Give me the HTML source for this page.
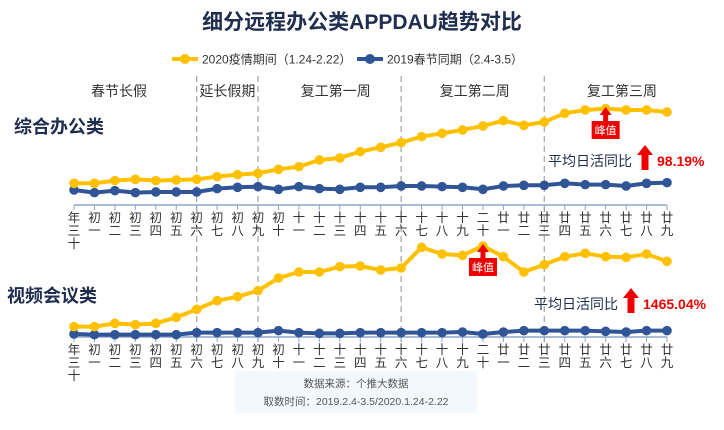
<!DOCTYPE html>
<html><head><meta charset="utf-8"><style>
body{margin:0;background:#fff;}
svg{display:block;font-family:"Liberation Sans","Noto Sans CJK SC",sans-serif;}
</style></head><body>
<svg width="724" height="430" viewBox="0 0 724 430" id="c">
<text x="362" y="29" text-anchor="middle" font-size="21" font-weight="bold" fill="#1f2d4f">细分远程办公类APPDAU趋势对比</text>
<g>
<g><line x1="172" y1="59" x2="198" y2="59" stroke="#FFC000" stroke-width="4"/><circle cx="185" cy="59" r="5" fill="#FFC000"/><text x="202" y="63.5" font-size="12" fill="#333">2020疫情期间（1.24-2.22）</text></g>
<g><line x1="357" y1="59" x2="383" y2="59" stroke="#2F5597" stroke-width="4"/><circle cx="370" cy="59" r="5" fill="#2F5597"/><text x="387" y="63.5" font-size="12" fill="#333">2019春节同期（2.4-3.5）</text></g>
</g>
<rect x="235" y="371" width="242" height="42" fill="#f3f8fd"/>
<text x="356" y="387" text-anchor="middle" font-size="10.5" fill="#555">数据来源：个推大数据</text>
<text x="356" y="405" text-anchor="middle" font-size="10.5" fill="#555">取数时间：2019.2.4-3.5/2020.1.24-2.22</text>
<g id="g"></g>
</svg>
<script>
const labels=["年三十","初一","初二","初三","初四","初五","初六","初七","初八","初九","初十","十一","十二","十三","十四","十五","十六","十七","十八","十九","二十","廿一","廿二","廿三","廿四","廿五","廿六","廿七","廿八","廿九"];
const officeY2020=[60,60,68,72,68,70,72,80,86,90,102,110,130,136,155,168,182,200,210,220,232,248,234,244,270,280,284,280,280,274];
const officeY2019=[40,32,38,32,34,34,34,44,48,50,42,50,44,42,48,48,52,52,50,48,42,52,54,54,60,56,56,52,60,62];
const videoY2020=[10,10,20,16,20,38,62,88,100,118,156,174,174,190,192,180,186,248,228,224,252,220,174,196,220,230,220,218,228,206];
const videoY2019=[-12,-14,-14,-14,-14,-14,-8,-8,-8,-8,-2,-8,-10,-10,-8,-8,-8,-8,-8,-6,-12,-6,-2,-2,-2,-2,-4,-6,-2,-2];
const periods=["春节长假","延长假期","复工第一周","复工第二周","复工第三周"];
const periodCenters=[2.2,7.5,12.8,19.6,26.8];
const dividers=[6,9,16,23];
const NS="http://www.w3.org/2000/svg",g=document.getElementById('g');
const X=i=>74+i*(667-74)/29;
const topY=v=>203.3-v/3, botY=v=>330-v/3;
function el(t,a,p){const e=document.createElementNS(NS,t);for(const k in a)e.setAttribute(k,a[k]);(p||g).appendChild(e);return e;}
dividers.forEach(i=>{const l=el('line',{x1:X(i),x2:X(i),y1:76,y2:345,stroke:'#aaa','stroke-width':1.3,'stroke-dasharray':'6,4'});

});
periods.forEach((p,k)=>{const t=el('text',{x:X(periodCenters[k]),y:96,'text-anchor':'middle','font-size':14,fill:'#333'});t.textContent=p;

});
function axis(y0,name){const a=el('g',{});


el('line',{x1:X(0),x2:X(29),y1:y0,y2:y0,stroke:'#8fa3c8','stroke-width':1.5},a);
labels.forEach((s,i)=>{el('line',{x1:X(i),x2:X(i),y1:y0,y2:y0+5,stroke:'#8fa3c8'},a);
[...s].forEach((ch,j)=>{const t=el('text',{x:X(i),y:y0+17+j*13,'text-anchor':'middle','font-size':12.5,fill:'#333'},a);t.textContent=ch;});});}
axis(205,'x-axis-office');axis(337,'x-axis-video');
function series(data,f,color,name){const s=el('g',{});


el('polyline',{points:data.map((v,i)=>X(i)+','+f(v)).join(' '),fill:'none',stroke:color,'stroke-width':4,'stroke-linejoin':'round'},s);
data.forEach((v,i)=>{const c=el('circle',{cx:X(i),cy:f(v),r:4.8,fill:color},s);

});}
series(officeY2019,topY,'#2F5597','office-2019-line');
series(officeY2020,topY,'#FFC000','office-2020-line');
series(videoY2019,botY,'#2F5597','video-2019-line');
series(videoY2020,botY,'#FFC000','video-2020-line');
function label(x,y,t,name){const e=el('text',{x:x,y:y,'font-size':18,'font-weight':'bold',fill:'#1f2d4f'});e.textContent=t;

}
label(14,133,'综合办公类','office-category-label');label(7,302,'视频会议类','video-category-label');
function peak(i,y,name){const p=el('g',{});


const x=X(i);el('polygon',{points:`${x},${y-14} ${x-6},${y-6} ${x-2.5},${y-6} ${x-2.5},${y} ${x+2.5},${y} ${x+2.5},${y-6} ${x+6},${y-6}`,fill:'#e00'},p);
el('rect',{x:x-14,y:y,width:28,height:18,fill:'#e00'},p);
const t=el('text',{x:x,y:y+13,'text-anchor':'middle','font-size':11,fill:'#fff'},p);t.textContent='峰值';}
peak(26,121,'office-peak-marker');peak(20,258,'video-peak-marker');
function growth(x,y,val,name){const p=el('g',{});


const t=el('text',{x:x,y:y,'font-size':14,fill:'#1f2d4f'},p);t.textContent='平均日活同比';
const ax=x+97;el('polygon',{points:`${ax},${y-21} ${ax-8},${y-11} ${ax-3.5},${y-11} ${ax-3.5},${y+4} ${ax+3.5},${y+4} ${ax+3.5},${y-11} ${ax+8},${y-11}`,fill:'#e00'},p);
const v=el('text',{x:ax+12,y:y,'font-size':14,'font-weight':'bold',fill:'#e00'},p);v.textContent=val;}
growth(548,166,'98.19%','office-growth');growth(534,309,'1465.04%','video-growth');
</script>
</body></html>
